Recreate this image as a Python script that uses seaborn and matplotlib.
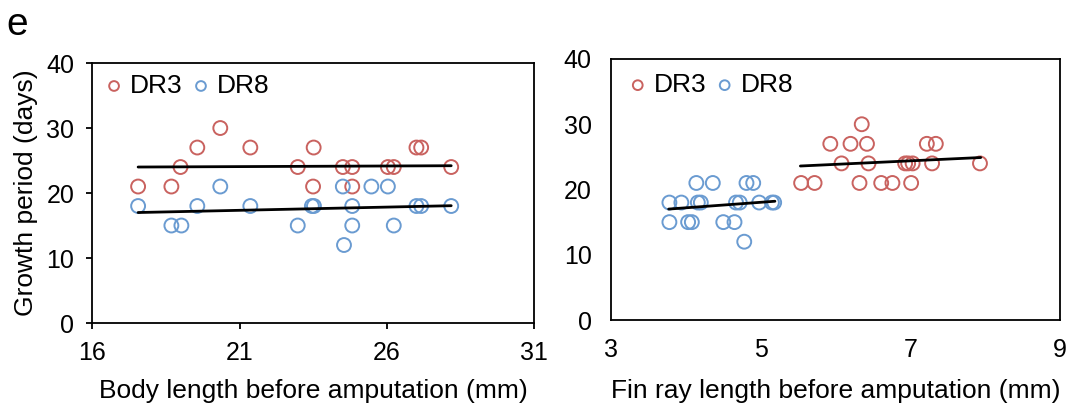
import numpy as np
import pandas as pd
import matplotlib
matplotlib.use("Agg")
import matplotlib.pyplot as plt
import seaborn as sns

# ---- data ----
# Left panel: body length (mm) vs growth period (days)
body_dr3_x = [17.55, 18.68, 18.99, 19.56, 20.34, 21.36, 22.97, 23.49, 23.51, 24.50,
              24.82, 24.82, 26.03, 26.23, 27.00, 27.16, 28.18]
body_dr3_y = [21, 21, 24, 27, 30, 27, 24, 21, 27, 24, 24, 21, 24, 24, 27, 27, 24]
body_dr8_x = [17.55, 18.68, 19.02, 19.56, 20.34, 21.36, 22.97, 23.45, 23.52, 24.50,
              25.47, 26.03, 24.82, 24.82, 24.54, 26.23, 27.00, 27.16, 28.18]
body_dr8_y = [18, 15, 15, 18, 21, 18, 15, 18, 18, 21, 21, 21, 18, 15, 12, 15, 18, 18, 18]
body_dr3_fit_x = [17.55, 28.18]
body_dr3_fit_y = [24.0, 24.2]
body_dr8_fit_x = [17.55, 28.18]
body_dr8_fit_y = [17.0, 18.05]

# Right panel: fin ray length (mm) vs growth period (days)
fin_dr3_x = [5.54, 5.72, 5.93, 6.08, 6.20, 6.35, 6.42, 6.44, 6.32, 6.61, 6.76,
             6.93, 6.97, 7.03, 7.01, 7.22, 7.34, 7.29, 7.93]
fin_dr3_y = [21, 21, 27, 24, 27, 30, 27, 24, 21, 21, 21, 24, 24, 24, 21, 27, 27, 24, 24]
fin_dr8_x = [3.78, 3.94, 4.16, 4.20, 4.14, 4.36, 3.78, 4.03, 4.08, 4.50, 4.65,
             4.78, 4.81, 4.90, 4.67, 4.72, 4.98, 5.15, 5.18]
fin_dr8_y = [18, 18, 18, 18, 21, 21, 15, 15, 15, 15, 15, 12, 21, 21, 18, 18, 18, 18, 18]
fin_dr3_fit_x = [5.53, 7.94]
fin_dr3_fit_y = [23.6, 24.9]
fin_dr8_fit_x = [3.77, 5.19]
fin_dr8_fit_y = [17.0, 18.2]

series_names = ["DR3", "DR8"]
y_ticks = [0, 10, 20, 30, 40]
left_xticks = [16, 21, 26, 31]
right_xticks = [3, 5, 7, 9]

RED = "#C9625F"
BLUE = "#6A9BD1"
FS_TICK = 18
FS_LABEL = 19
FS_LEG = 19

sns.set_theme(style="white")
plt.rcParams["font.family"] = ["Liberation Sans", "DejaVu Sans"]
plt.rcParams["text.color"] = "black"
plt.rcParams["axes.labelcolor"] = "black"
plt.rcParams["xtick.color"] = "black"
plt.rcParams["ytick.color"] = "black"

fig = plt.figure(figsize=(10.75, 4.12), dpi=100)
axL = fig.add_axes([0.0860, 0.216, 0.411, 0.631])
axR = fig.add_axes([0.5684, 0.2233, 0.4177, 0.6335])

def draw(ax, x3, y3, x8, y8, f3x, f3y, f8x, f8y, leg_anchor):
    sns.scatterplot(x=x3, y=y3, ax=ax, color=RED, facecolor="none", edgecolor=RED,
                    linewidth=1.4, s=100, marker="o", label=series_names[0], zorder=2)
    sns.scatterplot(x=x8, y=y8, ax=ax, color=BLUE, facecolor="none", edgecolor=BLUE,
                    linewidth=1.4, s=100, marker="o", label=series_names[1], zorder=2)
    sns.lineplot(x=f3x, y=f3y, ax=ax, color="black", linewidth=2.0, zorder=3, legend=False)
    sns.lineplot(x=f8x, y=f8y, ax=ax, color="black", linewidth=2.0, zorder=3, legend=False)
    for sp in ax.spines.values():
        sp.set_visible(True)
        sp.set_color("black")
        sp.set_linewidth(1.3)
    ax.set_ylim(0, 40)
    ax.set_yticks(y_ticks)
    ax.tick_params(labelsize=FS_TICK, colors="black", labelcolor="black")
    handles, labels = ax.get_legend_handles_labels()
    leg = ax.legend(handles[:2], labels[:2], ncol=2, loc="center left",
                    bbox_to_anchor=leg_anchor, frameon=False, fontsize=FS_LEG,
                    handlelength=0.8, handletextpad=0.2, columnspacing=0.3,
                    borderaxespad=0.0, borderpad=0.0, markerscale=0.7)
    for t in leg.get_texts():
        t.set_color("black")

draw(axL, body_dr3_x, body_dr3_y, body_dr8_x, body_dr8_y,
     body_dr3_fit_x, body_dr3_fit_y, body_dr8_fit_x, body_dr8_fit_y, (0.025, 0.912))
axL.set_xlim(16, 31)
axL.set_xticks(left_xticks)
axL.tick_params(direction="out", length=4, width=1.3, left=True, bottom=True, pad=9)
axL.set_xlabel("Body length before amputation (mm)", fontsize=FS_LABEL, color="black", labelpad=10)
axL.set_ylabel("Growth period (days)", fontsize=FS_LABEL, color="black", labelpad=6)

draw(axR, fin_dr3_x, fin_dr3_y, fin_dr8_x, fin_dr8_y,
     fin_dr3_fit_x, fin_dr3_fit_y, fin_dr8_fit_x, fin_dr8_fit_y, (0.036, 0.90))
axR.set_xlim(3, 9)
axR.set_xticks(right_xticks)
axR.tick_params(axis="x", length=0, pad=13)
axR.tick_params(axis="y", length=0, pad=14)
axR.set_xlabel("Fin ray length before amputation (mm)", fontsize=FS_LABEL, color="black", labelpad=12)
axR.set_ylabel("")

fig.text(0.006, 0.982, "e", fontsize=28, va="top", ha="left", color="black")

fig.savefig("out.png", dpi=100)
